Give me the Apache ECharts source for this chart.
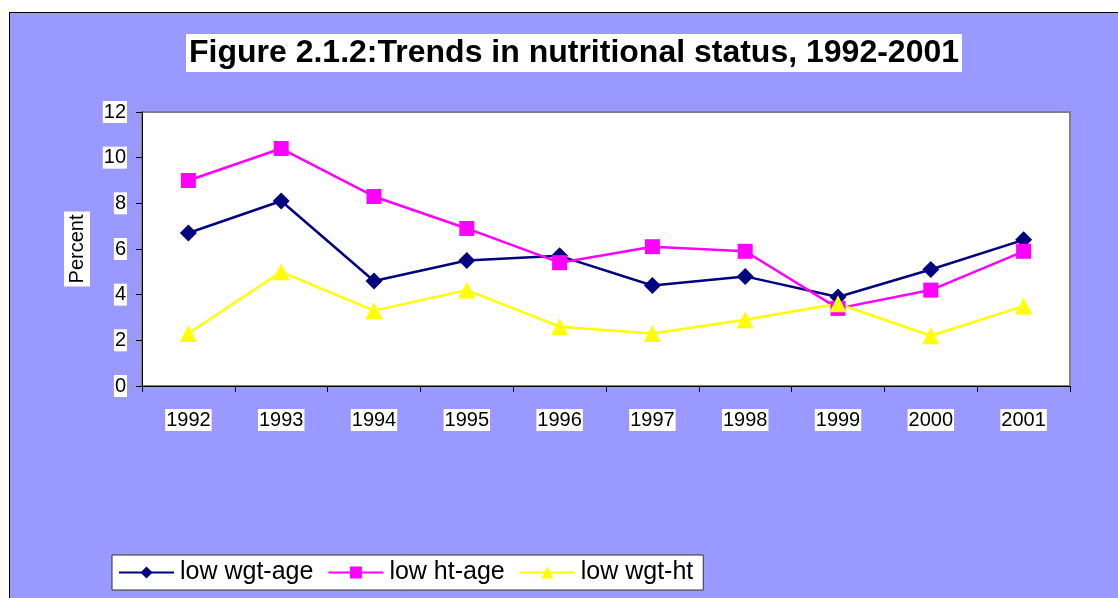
<!DOCTYPE html>
<html>
<head>
<meta charset="utf-8">
<script src="https://cdn.jsdelivr.net/npm/echarts@6/dist/echarts.min.js"></script>
<style>
  html, body { margin: 0; padding: 0; background: #fff; overflow: hidden; width: 1118px; height: 598px; }
  #chart { position: absolute; left: 9px; top: 12px; width: 1108px; height: 585px;
           border-left: 1px solid #000; border-top: 1px solid #000; background: #9999FF; }
</style>
</head>
<body>
<div id="chart"></div>
<script>
var years = ['1992', '1993', '1994', '1995', '1996', '1997', '1998', '1999', '2000', '2001'];
var lowWgtAge = [6.7, 8.1, 4.6, 5.5, 5.7, 4.4, 4.8, 3.9, 5.1, 6.4];
var lowHtAge = [9.0, 10.4, 8.3, 6.9, 5.4, 6.1, 5.9, 3.4, 4.2, 5.9];
var lowWgtHt = [2.3, 5.0, 3.3, 4.2, 2.6, 2.3, 2.9, 3.6, 2.2, 3.5];

var myChart = echarts.init(document.getElementById('chart'));
var font = 'Liberation Sans, Arial, sans-serif';

var option = {
  backgroundColor: 'transparent',
  animation: false,
  title: {
    text: 'Figure 2.1.2:Trends in nutritional status, 1992-2001',
    left: 176,
    top: 21,
    padding: [3, 3, 3, 3],
    backgroundColor: '#fff',
    textStyle: { fontFamily: font, fontSize: 32, fontWeight: 'bold', color: '#000' }
  },
  legend: {
    left: 102,
    top: 542,
    backgroundColor: '#fff',
    borderColor: '#333',
    borderWidth: 1,
    padding: [5, 10, 5, 6],
    itemWidth: 55,
    itemHeight: 15,
    itemGap: 14,
    textStyle: { fontFamily: font, fontSize: 25, color: '#000', padding: [0, 0, 0, 1] },
    data: ['low wgt-age', 'low ht-age', 'low wgt-ht']
  },
  grid: {
    left: 132, top: 99, width: 928, height: 274,
    show: true, backgroundColor: '#fff', borderColor: '#808080', borderWidth: 2
  },
  xAxis: {
    type: 'category',
    data: years,
    boundaryGap: true,
    axisLine: { lineStyle: { color: '#000', width: 1 } },
    axisTick: { show: true, length: 6, lineStyle: { color: '#000' } },
    axisLabel: { fontFamily: font, fontSize: 20, color: '#000', margin: 23, backgroundColor: '#fff', padding: [1, 1] }
  },
  yAxis: {
    type: 'value',
    min: 0, max: 12, interval: 2,
    name: 'Percent',
    nameLocation: 'middle',
    nameRotate: 90,
    nameGap: 52,
    nameTextStyle: { fontFamily: font, fontSize: 20, color: '#000', backgroundColor: '#fff', padding: [3, 3] },
    axisLine: { show: true, lineStyle: { color: '#000', width: 1 } },
    axisTick: { show: true, length: 6, lineStyle: { color: '#000' } },
    splitLine: { show: false },
    axisLabel: { fontFamily: font, fontSize: 20, color: '#000', margin: 15, backgroundColor: '#fff', padding: [1, 1] }
  },
  series: [
    {
      name: 'low wgt-age', type: 'line', data: lowWgtAge,
      symbol: 'diamond', symbolSize: 17,
      itemStyle: { color: '#000080' }, lineStyle: { color: '#000080', width: 2.5 }
    },
    {
      name: 'low ht-age', type: 'line', data: lowHtAge,
      symbol: 'rect', symbolSize: 15,
      itemStyle: { color: '#FF00FF' }, lineStyle: { color: '#FF00FF', width: 2.5 }
    },
    {
      name: 'low wgt-ht', type: 'line', data: lowWgtHt,
      symbol: 'triangle', symbolSize: 17,
      itemStyle: { color: '#FFFF00' }, lineStyle: { color: '#FFFF00', width: 2.5 }
    }
  ]
};

myChart.setOption(option);
</script>
</body>
</html>
